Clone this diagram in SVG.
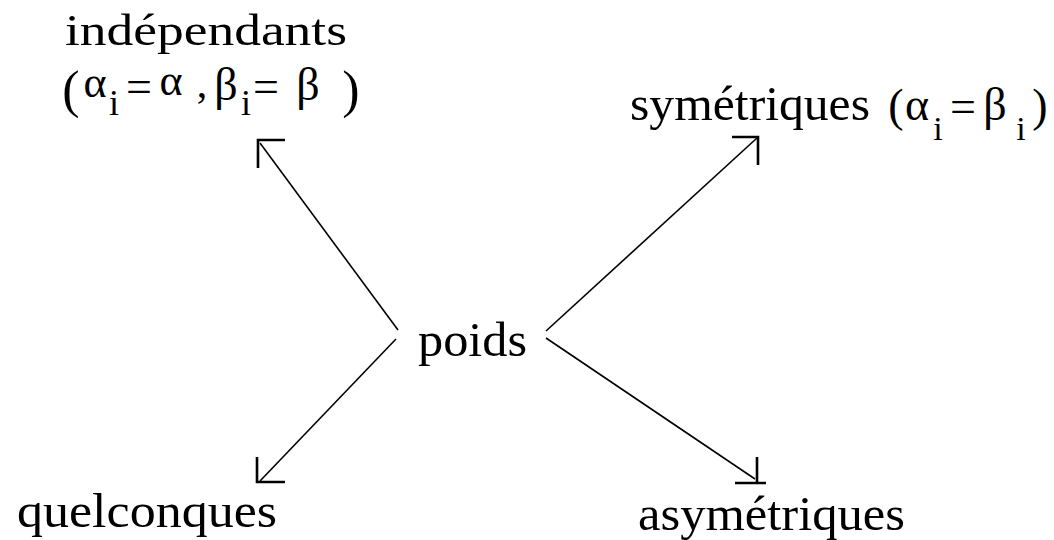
<svg xmlns="http://www.w3.org/2000/svg" width="1054" height="540" viewBox="0 0 1054 540">
<style>
.t{font-family:"Liberation Serif","Times New Roman",serif;fill:#000}
.g{font-family:"Liberation Serif","Times New Roman",serif;fill:#000;text-anchor:middle}
.ln{stroke:#000;stroke-width:1.6;fill:none}
.hd{stroke:#000;stroke-width:2.6;fill:none}
</style>
<rect width="1054" height="540" fill="#fff"/>
<g id="connectors">
  <line class="ln" x1="398" y1="330" x2="260" y2="143"/>
  <path class="hd" d="M258,168 V140 H285"/>
  <line class="ln" x1="396" y1="339" x2="260" y2="481"/>
  <path class="hd" d="M257,457 V482 H285"/>
  <line class="ln" x1="546" y1="331" x2="757" y2="138"/>
  <path class="hd" d="M732,137 H758 V165"/>
  <line class="ln" x1="546" y1="338" x2="755" y2="479"/>
  <path class="hd" d="M757,457 V483 M735,483 H766"/>
</g>
<g id="node-poids">
  <text class="t" x="418" y="356" font-size="48" textLength="109" lengthAdjust="spacingAndGlyphs">poids</text>
</g>
<g id="node-independants">
  <text class="t" x="65" y="45" font-size="44" textLength="282" lengthAdjust="spacingAndGlyphs">indépendants</text>
  <text class="g" x="71" y="107" font-size="52">(</text>
  <text class="g" x="95" y="97" font-size="44">α</text>
  <text class="g" x="114" y="115" font-size="36">i</text>
  <text class="g" x="139" y="102" font-size="46">=</text>
  <text class="g" x="171" y="95" font-size="44">α</text>
  <text class="g" x="202" y="97" font-size="42">,</text>
  <text class="g" x="226" y="100" font-size="46">β</text>
  <text class="g" x="246" y="115" font-size="36">i</text>
  <text class="g" x="266" y="102" font-size="46">=</text>
  <text class="g" x="308" y="100" font-size="46">β</text>
  <text class="g" x="351" y="107" font-size="52">)</text>
</g>
<g id="node-symetriques">
  <text class="t" x="630" y="120" font-size="48" textLength="240" lengthAdjust="spacingAndGlyphs">symétriques</text>
  <text class="g" x="896" y="121" font-size="46">(</text>
  <text class="g" x="917" y="120" font-size="46">α</text>
  <text class="g" x="938" y="140" font-size="34">i</text>
  <text class="g" x="963" y="122" font-size="46">=</text>
  <text class="g" x="995" y="120" font-size="46">β</text>
  <text class="g" x="1021" y="140" font-size="34">i</text>
  <text class="g" x="1040" y="121" font-size="46">)</text>
</g>
<g id="node-quelconques">
  <text class="t" x="17" y="527" font-size="48" textLength="260" lengthAdjust="spacingAndGlyphs">quelconques</text>
</g>
<g id="node-asymetriques">
  <text class="t" x="638" y="530" font-size="48" textLength="267" lengthAdjust="spacingAndGlyphs">asymétriques</text>
</g>
</svg>
